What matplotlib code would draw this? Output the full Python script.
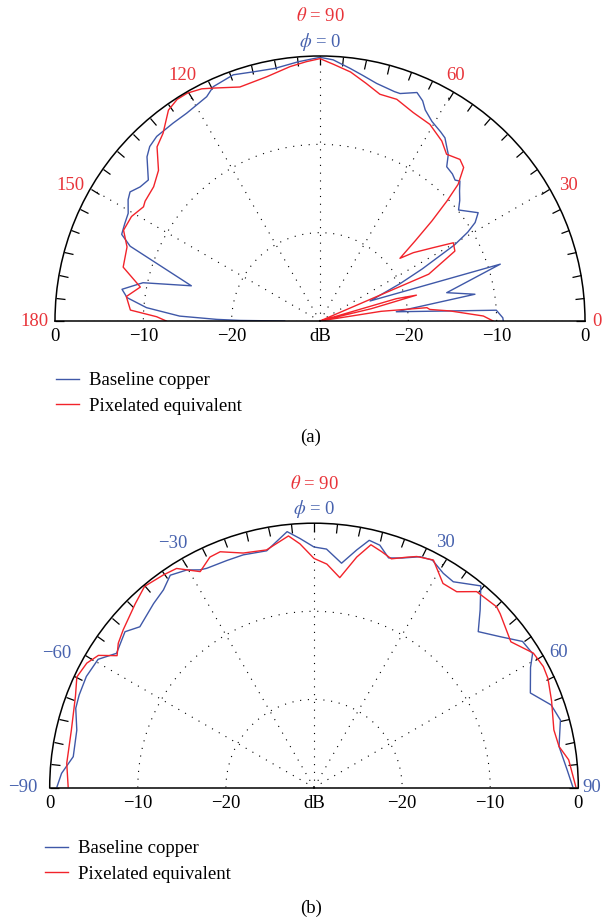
import numpy as np
import matplotlib
matplotlib.use("Agg")
import matplotlib.pyplot as plt

plt.rcParams['font.family'] = ['Liberation Serif', 'DejaVu Serif']
plt.rcParams['mathtext.fontset'] = 'stix'

LINE_BLUE = '#3f58a8'
LINE_RED = '#f2232a'
TXT_RED = '#e8343a'
TXT_BLUE = '#4762ae'
MINUS = '\u2212'
FS = 13.5

# (a) theta = 90 cut: angle (deg) and gain (dB)
a_blue_deg = [0, 1.0, 3.5, 6.9, 9.8, 12.6, 17.5, 21.8, 25, 27, 29.5, 31, 32.4, 34.4, 38.7,
              40.8, 43, 45, 46.2, 48, 50.6, 52.4, 54, 55.7, 57.5, 60.7, 63.5, 65, 67, 70.6,
              72, 76.6, 80, 83.2, 87.1, 90, 94.8, 100.1, 105, 109.4, 114.5, 116.8, 122.7,
              126.6, 131.5, 134.3, 136.5, 140.6, 143.3, 145.8, 147.7, 150.7, 153.5, 156.4,
              158.5, 164.7, 167.8, 170.9, 173.1, 175.6, 178, 179.1, 179.6, 180]
a_blue_db = [-9.25, -9.3, -10.0, -21.3, -12.2, -15.3, -8.6, -23.9, -20, -17, -12.5, -10.5,
             -9.2, -8.3, -9.9, -9.1, -8.4, -7.6, -7.9, -7.6, -7.4, -6.2, -5.6, -4.9, -4.6,
             -4.1, -3.3, -2.5, -1.9, -2.7, -2.7, -2.35, -1.8, -1.2, -0.4, -0.15, -0.55, -0.95,
             -0.8, -0.45, -0.85, -1.55, -2.05, -2.1, -2.1, -2.4, -3.0, -4.85, -4.6, -4.0,
             -4.3, -5.1, -5.3, -5.5, -6.9, -14.9, -9.5, -7.3, -8.0, -10.3, -14.1, -18.3,
             -21, -26]

a_red_deg = [0, 1.75, 4.4, 6, 7.1, 9, 11, 13.5, 15, 16.3, 18.5, 21, 23.3, 27.4, 30.4, 32.9,
             36.2, 38.1, 40.1, 41.8, 43.4, 44.7, 46.9, 49.1, 52.8, 55.9, 60.8, 65.9, 70.9,
             75.2, 79, 83, 87, 90, 93, 96.7, 102.3, 108.9, 114.6, 117, 120.2, 122.8, 125.7,
             129.9, 133.1, 137, 141.1, 145.6, 147.1, 151, 155.2, 159, 164.7, 169.3, 172.8,
             176.7, 178.5, 180]
a_red_db = [-10.4, -11.5, -15.2, -17.5, -17.8, -23, -30, -24, -18.7, -21, -30, -30, -16.6,
            -12.8, -12.5, -14.7, -16.9, -18.5, -15.9, -13.0, -10.2, -8.0, -6.2, -5.8, -6.3,
            -5.4, -4.5, -4.15, -3.44, -3.45, -2.6, -1.6, -0.9, -0.3, -0.6, -1.0, -1.7, -2.0,
            -1.0, -0.5, -0.15, -0.15, -0.6, -2.3, -3.0, -5.0, -5.8, -6.0, -6.2, -5.6, -5.5,
            -6.6, -6.9, -9.3, -7.9, -8.5, -11.5, -12.6]

# (b) phi = 0 cut: angle (deg) and gain (dB)
b_blue_deg = [-90, -86.8, -82.7, -76.4, -71.6, -68.5, -64, -59.3, -55.8, -50.5, -47.3, -41.1,
              -37.3, -34.1, -30.3, -27.7, -26.1, -21, -16.9, -11.3, -6, -3.2, 0, 3, 7, 10.2,
              12.6, 15.2, 18, 21, 24.7, 27.5, 31.1, 34.1, 39.6, 43.1, 46.5, 51, 55, 58.5, 61,
              65, 66.4, 70.8, 74.7, 80.5, 86, 90]
b_blue_db = [-0.8, -1.3, -2.45, -2.3, -1.5, -1.35, -1.25, -1.5, -2.9, -2.2, -3.1, -2.3, -1.8,
             -0.9, -1.4, -2.1, -2.3, -2.4, -2.4, -2.6, -0.8, -1.7, -2.7, -2.9, -4.35, -2.6,
             -1.25, -1.5, -2.6, -2.1, -1.17, -0.9, -1.6, -1.8, -0.3, -2.4, -4.3, -2.8, -1.1,
             -0.9, -1.9, -2.9, -3.2, -1.5, -1.0, -1.8, -1.2, -0.6]

b_red_deg = [-90, -84.4, -76.7, -69, -65, -61.3, -58.5, -56.2, -53.6, -50.4, -44.2, -40.1,
             -35.3, -32.1, -27.8, -24.3, -21.7, -16.8, -11.3, -5.8, -3.3, 0, 3.3, 7, 10.5,
             13.2, 16, 18.7, 22, 24, 27.7, 32.3, 36.1, 39.7, 45.3, 47, 53.5, 58.5, 62.2, 65,
             70, 76.5, 80.5, 83.8, 90]
b_red_db = [-2.1, -1.8, -1.7, -1.0, -0.3, -0.6, -1.3, -3.1, -2.4, -1.9, -0.9, -0.15, -0.43,
            -0.65, -2.3, -1.3, -1.2, -2.2, -2.5, -1.3, -2.3, -4.0, -4.6, -6.0, -3.4, -1.7,
            -2.15, -2.6, -1.8, -1.3, -0.84, -2.6, -2.5, -1.1, -0.84, -1.1, -2.2, -0.8, -0.57,
            -0.7, -1.3, -2.0, -1.8, -0.92, -0.26]

series_names = ['Baseline copper', 'Pixelated equivalent']
r_labels = ['0', MINUS + '10', MINUS + '20']
r_values = [0, -10, -20]

# angle labels: text, angle (deg), radius (dB beyond the rim)
a_angle_labels = [('0', 0, 1.4), ('30', 28.7, 2.0), ('60', 61.1, 1.7), ('120', 119.2, 1.8),
                  ('150', 151.5, 2.2), ('180', 180, 2.3)]
b_angle_labels = [(MINUS + '90', -90, 3.1), (MINUS + '60', -62.4, 2.9), (MINUS + '30', -30, 2.0),
                  ('30', 28.2, 1.5), ('60', 61, 1.7), ('90', 90, 1.55)]

W, H = 602, 923
fig = plt.figure(figsize=(W / 100, H / 100), dpi=100)


def polar_axes(cx, cy, R):
    # the half-wedge bbox is padded to a square, circle centre sits at 1/4 height
    rect = [(cx - R) / W, (H - cy - R / 2) / H, 2 * R / W, 2 * R / H]
    return fig.add_axes(rect, projection='polar')


def style(ax, lo, hi):
    ax.set_thetamin(lo)
    ax.set_thetamax(hi)
    ax.set_ylim(-30, 0)
    ax.set_yticks([-20, -10])
    ax.set_yticklabels([])
    ax.set_xticks(np.radians(np.arange(lo, hi + 1, 30)))
    ax.set_xticklabels([])
    ax.set_xticks(np.radians(np.arange(lo, hi + 1, 5)), minor=True)
    ax.tick_params(axis='x', which='both', bottom=False, top=True, direction='in',
                   length=6.5, width=0.9, color='black')
    ax.tick_params(axis='y', length=0)
    ax.grid(True, color='black', linestyle=(0, (1, 6)), linewidth=0.8)
    for sp in ax.spines.values():
        sp.set_linewidth(1.1)


def base_labels(ax, left, right):
    for val, lab in zip(r_values, r_labels):
        for th in (left, right):
            ax.annotate(lab, xy=(np.radians(th), val), xytext=(0, -11.5),
                        textcoords='offset points', ha='center', va='center',
                        fontsize=FS, annotation_clip=False)
    ax.annotate('dB', xy=(0, -30), xytext=(0, -11.5), textcoords='offset points',
                ha='center', va='center', fontsize=FS, annotation_clip=False)


def top_titles(ax, th90):
    ax.text(np.radians(th90), 4.5, r'$\theta$ = 90', color=TXT_RED, ha='center',
            va='center', fontsize=FS)
    ax.text(np.radians(th90), 1.6, r'$\phi$ = 0', color=TXT_BLUE, ha='center',
            va='center', fontsize=FS)


def legend(ax, x, y):
    ax.legend(loc='upper left', bbox_to_anchor=(x / W, 1 - y / H),
              bbox_transform=fig.transFigure, frameon=False, fontsize=FS,
              handlelength=1.2, handletextpad=0.55, labelspacing=0.45,
              borderpad=0, borderaxespad=0)


# ---- (a)
ax1 = polar_axes(320, 321, 265)
style(ax1, 0, 180)
ax1.plot(np.radians(a_blue_deg), a_blue_db, color=LINE_BLUE, lw=1.0, label=series_names[0])
ax1.plot(np.radians(a_red_deg), a_red_db, color=LINE_RED, lw=1.0, label=series_names[1])
for lab, deg, r in a_angle_labels:
    ax1.text(np.radians(deg), r, lab, color=TXT_RED, ha='center', va='center', fontsize=FS)
top_titles(ax1, 90)
base_labels(ax1, 180, 0)
legend(ax1, 56, 372)
fig.text(311 / W, 1 - 437 / H, '(a)', ha='center', va='center', fontsize=FS)

# ---- (b)
ax2 = polar_axes(314, 787.5, 264.3)
ax2.set_theta_zero_location('N')
ax2.set_theta_direction(-1)
style(ax2, -90, 90)
ax2.plot(np.radians(b_blue_deg), b_blue_db, color=LINE_BLUE, lw=1.0, label=series_names[0])
ax2.plot(np.radians(b_red_deg), b_red_db, color=LINE_RED, lw=1.0, label=series_names[1])
for lab, deg, r in b_angle_labels:
    ax2.text(np.radians(deg), r, lab, color=TXT_BLUE, ha='center', va='center', fontsize=FS)
top_titles(ax2, 0)
base_labels(ax2, -90, 90)
legend(ax2, 45, 840)
fig.text(311 / W, 1 - 908 / H, '(b)', ha='center', va='center', fontsize=FS)

fig.savefig('out.png', dpi=100)
